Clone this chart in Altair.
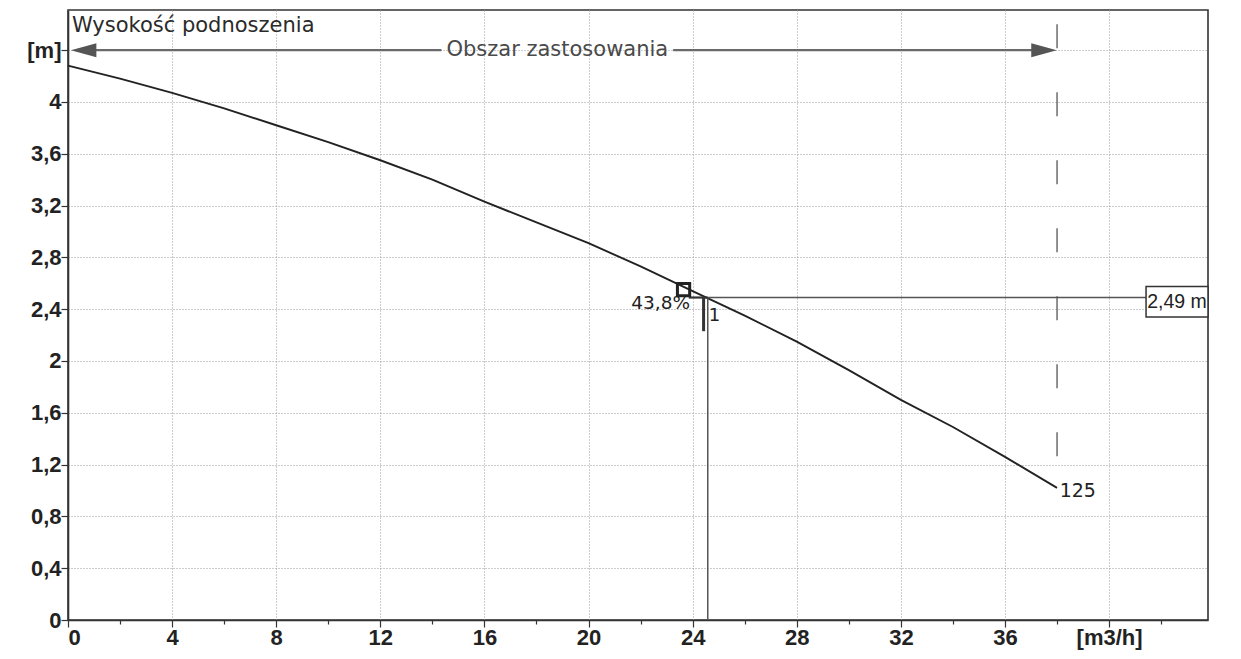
import altair as alt
import pandas as pd

# ---- data ----
flow = [0, 2, 4, 6, 8, 10, 12, 14, 16, 18, 20, 22, 24, 26, 28, 30, 32, 34, 36, 38]
head = [4.28, 4.18, 4.07, 3.95, 3.82, 3.69, 3.55, 3.40, 3.23, 3.07, 2.91, 2.73,
        2.54, 2.35, 2.15, 1.93, 1.70, 1.49, 1.26, 1.02]

duty_q = 24.58
duty_h = 2.49
duty_label = "2,49 m"
eff_label = "43,8%"
eff_q = 23.65
eff_h = 2.55
end_q = 38
end_h = 1.02
end_label = "125"
range_label = "Obszar zastosowania"
y_title = "Wysokość podnoszenia"
y_unit = "[m]"
x_unit = "[m3/h]"

x_ticks = list(range(0, 44))
y_ticks = [round(i * 0.1, 1) for i in range(0, 48)]

X_DOM = [0, 43.8]
Y_DOM = [0, 4.71]

xs = alt.Scale(domain=X_DOM, nice=False, zero=False)
ys = alt.Scale(domain=Y_DOM, nice=False, zero=False)

FONT = "DejaVu Sans"
AXFONT = "Liberation Sans"
DARK = "#222222"

x_major = "datum.value % 4 == 0"
y_major = "round(datum.value*10) % 4 == 0"

x_axis = alt.Axis(
    values=x_ticks, title=None, grid=True,
    gridColor="#9a9a9a", gridDash=[1, 2], gridWidth=1,
    gridOpacity={"condition": {"test": x_major, "value": 1}, "value": 0},
    tickSize={"condition": {"test": x_major, "value": 7}, "value": 4},
    labelExpr=f"{x_major} ? (datum.value == 40 ? '{x_unit}' : toString(datum.value)) : ''",
    labelOverlap=False, labelFont=AXFONT, labelFontSize=22, labelFontWeight="bold",
    labelColor=DARK, labelPadding=0, tickColor="#333333", tickWidth=1.2,
    domainColor="#333333", domainWidth=1.6,
)
y_axis = alt.Axis(
    values=y_ticks, title=None, grid=True,
    gridColor="#9a9a9a", gridDash=[1, 2], gridWidth=1,
    gridOpacity={"condition": {"test": y_major, "value": 1}, "value": 0},
    tickSize={"condition": {"test": y_major, "value": 7}, "value": 4},
    labelExpr=f"{y_major} ? (round(datum.value*10) == 44 ? '{y_unit}' : replace(format(round(datum.value*10)/10, '~g'), '.', ',')) : ''",
    labelOverlap=False, labelFont=AXFONT, labelFontSize=22, labelFontWeight="bold",
    labelColor=DARK, labelPadding=0, tickColor="#333333", tickWidth=1.2,
    domainColor="#333333", domainWidth=1.6,
)

curve_df = pd.DataFrame({"q": flow, "h": head})

base_curve = alt.Chart(curve_df).mark_line(color=DARK, strokeWidth=1.9).encode(
    x=alt.X("q:Q", scale=xs, axis=x_axis),
    y=alt.Y("h:Q", scale=ys, axis=y_axis),
)

# application range arrow (split around its label)
arrow_y = 4.4
arrow_df = pd.DataFrame({"a": [0.3, 23.25], "b": [14.35, 37.6], "y": [arrow_y, arrow_y]})
arrow_line = alt.Chart(arrow_df).mark_rule(color="#6a6a6a", strokeWidth=2.2).encode(
    x=alt.X("a:Q", scale=xs), x2="b:Q", y=alt.Y("y:Q", scale=ys))

heads_df = pd.DataFrame({"q": [0.6, 37.5], "y": [arrow_y, arrow_y],
                         "s": ["M1,-0.55L-1,0L1,0.55Z", "M-1,-0.55L1,0L-1,0.55Z"]})
arrow_heads = alt.Chart(heads_df).mark_point(filled=True, color="#555555", opacity=1, size=650).encode(
    x=alt.X("q:Q", scale=xs), y=alt.Y("y:Q", scale=ys), shape=alt.Shape("s:N", scale=None))

range_text = alt.Chart(pd.DataFrame({"q": [18.8], "y": [arrow_y], "t": [range_label]})).mark_text(
    font=FONT, fontSize=21, color="#4a4a4a", align="center", baseline="middle").encode(
    x=alt.X("q:Q", scale=xs), y=alt.Y("y:Q", scale=ys), text="t:N")

title_text = alt.Chart(pd.DataFrame({"q": [0.15], "y": [4.59], "t": [y_title]})).mark_text(
    font=FONT, fontSize=21, color="#2a2a2a", align="left", baseline="middle").encode(
    x=alt.X("q:Q", scale=xs), y=alt.Y("y:Q", scale=ys), text="t:N")

# dashed end-of-range line
end_line = alt.Chart(pd.DataFrame({"q": [end_q], "a": [end_h], "b": [4.6]})).mark_rule(
    color="#555555", strokeWidth=1.3, strokeDash=[24, 44]).encode(
    x=alt.X("q:Q", scale=xs), y=alt.Y("b:Q", scale=ys), y2="a:Q")

end_text = alt.Chart(pd.DataFrame({"q": [end_q + 0.1], "y": [0.995], "t": [end_label]})).mark_text(
    font=FONT, fontSize=19, color=DARK, align="left", baseline="middle").encode(
    x=alt.X("q:Q", scale=xs), y=alt.Y("y:Q", scale=ys), text="t:N")

# duty point lines
vert_df = pd.DataFrame({"q": [duty_q], "a": [0], "b": [duty_h]})
duty_vert = alt.Chart(vert_df).mark_rule(color="#555555", strokeWidth=1.5).encode(
    x=alt.X("q:Q", scale=xs), y=alt.Y("a:Q", scale=ys), y2="b:Q")

box_left = 41.42
hor_df = pd.DataFrame({"a": [duty_q], "b": [box_left], "y": [duty_h]})
duty_hor = alt.Chart(hor_df).mark_rule(color="#555555", strokeWidth=1.5).encode(
    x=alt.X("a:Q", scale=xs), x2="b:Q", y=alt.Y("y:Q", scale=ys))

box_df = pd.DataFrame({"a": [box_left], "b": [43.8], "y1": [2.34], "y2": [2.575]})
duty_box = alt.Chart(box_df).mark_rect(fill="white", stroke="#333333", strokeWidth=1.5).encode(
    x=alt.X("a:Q", scale=xs), x2="b:Q", y=alt.Y("y1:Q", scale=ys), y2="y2:Q")

box_text = alt.Chart(pd.DataFrame({"q": [42.61], "y": [2.458], "t": [duty_label]})).mark_text(
    font=AXFONT, fontSize=19.5, color=DARK, align="center", baseline="middle").encode(
    x=alt.X("q:Q", scale=xs), y=alt.Y("y:Q", scale=ys), text="t:N")

# bracket at duty point
br_h = pd.DataFrame({"a": [23.85], "b": [duty_q], "y": [duty_h]})
bracket_h = alt.Chart(br_h).mark_rule(color="#333333", strokeWidth=2.2).encode(
    x=alt.X("a:Q", scale=xs), x2="b:Q", y=alt.Y("y:Q", scale=ys))
br_v = pd.DataFrame({"q": [24.42], "a": [2.23], "b": [duty_h]})
bracket_v = alt.Chart(br_v).mark_rule(color="#333333", strokeWidth=3).encode(
    x=alt.X("q:Q", scale=xs), y=alt.Y("a:Q", scale=ys), y2="b:Q")
one_text = alt.Chart(pd.DataFrame({"q": [24.62], "y": [2.35], "t": ["1"]})).mark_text(
    font=FONT, fontSize=18, color=DARK, align="left", baseline="middle").encode(
    x=alt.X("q:Q", scale=xs), y=alt.Y("y:Q", scale=ys), text="t:N")

# efficiency marker
eff_pt = alt.Chart(pd.DataFrame({"q": [eff_q], "y": [eff_h]})).mark_point(
    shape="square", size=150, filled=False, color="#222222", strokeWidth=3, opacity=1).encode(
    x=alt.X("q:Q", scale=xs), y=alt.Y("y:Q", scale=ys))
eff_text = alt.Chart(pd.DataFrame({"q": [23.9], "y": [2.45], "t": [eff_label]})).mark_text(
    font=FONT, fontSize=18.5, color=DARK, align="right", baseline="middle").encode(
    x=alt.X("q:Q", scale=xs), y=alt.Y("y:Q", scale=ys), text="t:N")

chart = alt.layer(
    base_curve, arrow_line, arrow_heads, range_text, title_text,
    end_line, end_text, duty_vert, duty_hor, duty_box, box_text,
    bracket_h, bracket_v, one_text, eff_text, eff_pt,
).properties(
    width=1140, height=610,
    autosize=alt.AutoSizeParams(type="none"),
    padding={"left": 60, "top": 2, "right": 14, "bottom": 31},
    background="white",
).configure_view(stroke="#333333", strokeWidth=1.6)

chart.save("out.html", embed_options={"renderer": "svg", "actions": False})
